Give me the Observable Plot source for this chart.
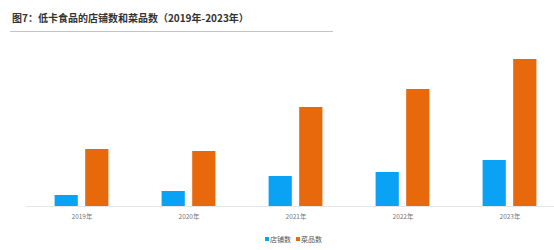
<!DOCTYPE html>
<html>
<head>
<meta charset="utf-8">
<script src="https://cdn.jsdelivr.net/npm/d3@7"></script>
<script src="https://cdn.jsdelivr.net/npm/@observablehq/plot@0.6"></script>
<style>
  html, body { margin: 0; padding: 0; background: #fff; width: 554px; height: 250px; overflow: hidden; position: relative; font-family: "Noto Sans CJK SC", "Noto Sans", sans-serif; }
  #title { position: absolute; left: 12px; top: 11px; font-size: 10px; font-weight: bold; color: #333; line-height: 14px; white-space: nowrap; }
  #rule { position: absolute; left: 10px; top: 31px; width: 323px; height: 0; border-top: 1px solid #c4c4c4; }
  #chart { position: absolute; left: 0; top: 33px; }
  #legend { position: absolute; left: 265px; top: 234px; font-size: 7px; color: #555; line-height: 10px; white-space: nowrap; }
  #legend span.sw { display: inline-block; width: 4px; height: 4px; margin-right: 1px; vertical-align: 1px; }
  #legend span.item { display: inline-block; margin-right: 5px; }
</style>
</head>
<body>
<div id="title">图7：低卡食品的店铺数和菜品数（2019年-2023年）</div>
<div id="rule"></div>
<div id="chart"></div>
<div id="legend"></div>
<script>
const years = ["2019年", "2020年", "2021年", "2022年", "2023年"];
const seriesNames = ["店铺数", "菜品数"];
const stores = [11, 15, 30, 34, 46];
const dishes = [57, 55, 99, 117, 147];
const colors = ["#0aa2f5", "#e8680c"];

const storeData = years.map((y, i) => ({year: y, value: stores[i]}));
const dishData = years.map((y, i) => ({year: y, value: dishes[i]}));

const chart = Plot.plot({
  width: 554,
  height: 195,
  marginLeft: 26,
  marginRight: 0,
  marginTop: 13,
  marginBottom: 22,
  x: {domain: years, range: [26, 564.75], padding: 0, label: null},
  y: {domain: [0, 160], range: [173, 13], axis: null},
  style: {fontFamily: "Noto Sans CJK SC, Noto Sans, sans-serif", fontSize: "6.5px", color: "#777", background: "transparent", overflow: "visible"},
  marks: [
    Plot.ruleY([0], {stroke: "#e6e6e6", strokeWidth: 1}),
    Plot.barY(storeData, {x: "year", y: "value", fill: colors[0], insetLeft: 26.6, insetRight: 57.2}),
    Plot.barY(dishData, {x: "year", y: "value", fill: colors[1], insetLeft: 57.2, insetRight: 26.6}),
    Plot.axisX({tickSize: 0, tickPadding: 8, fill: "#777", fontSize: 6.5, label: null})
  ]
});
document.getElementById("chart").appendChild(chart);

const legend = document.getElementById("legend");
seriesNames.forEach((name, i) => {
  const item = document.createElement("span");
  item.className = "item";
  const sw = document.createElement("span");
  sw.className = "sw";
  sw.style.background = colors[i];
  item.appendChild(sw);
  item.appendChild(document.createTextNode(name));
  legend.appendChild(item);
});
</script>
</body>
</html>
